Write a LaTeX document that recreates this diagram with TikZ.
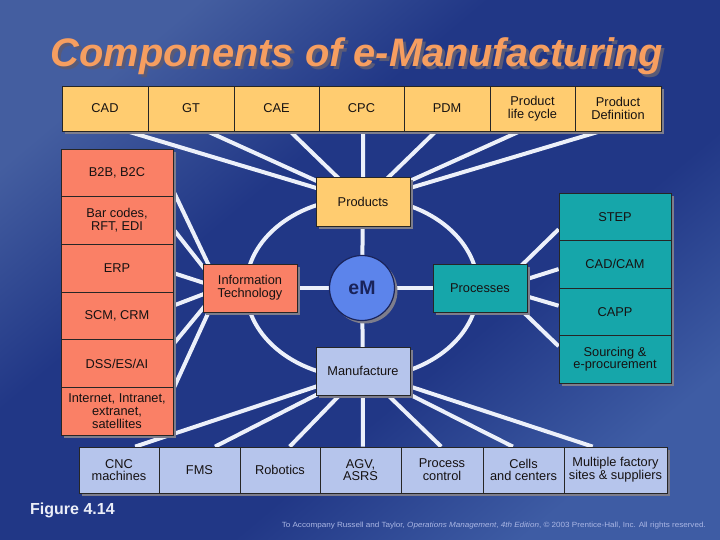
\documentclass[tikz,border=0pt]{standalone}
\usepackage{fontspec}
\setmainfont{Liberation Sans}
\usetikzlibrary{shadows,calc}
\definecolor{bgtop}{RGB}{68,94,160}
\definecolor{bgmid}{RGB}{33,55,134}
\definecolor{bgbot}{RGB}{62,92,164}
\definecolor{ltorange}{RGB}{255,204,112}
\definecolor{salmonbox}{RGB}{250,128,102}
\definecolor{tealbox}{RGB}{22,166,170}
\definecolor{lavbox}{RGB}{182,197,236}
\definecolor{embl}{RGB}{92,132,235}
\definecolor{shadowgray}{RGB}{125,125,140}
\definecolor{linewhite}{RGB}{236,240,250}
\definecolor{titleor}{RGB}{246,158,96}
\definecolor{titlesh}{RGB}{90,90,118}
\definecolor{txtdark}{RGB}{22,18,18}
\definecolor{footcol}{RGB}{170,182,228}
\definecolor{figwhite}{RGB}{235,238,248}
\definecolor{emtext}{RGB}{25,35,90}
\pgfdeclareverticalshading{bgshade}{100bp}{color(0bp)=(bgbot); color(25bp)=(bgbot); color(40bp)=(bgmid); color(60bp)=(bgmid); color(75bp)=(bgtop); color(100bp)=(bgtop)}
\pgfdeclarelayer{bg}
\pgfdeclarelayer{links}
\pgfsetlayers{bg,links,main}
\tikzset{
  cell/.style={draw=black!85, line width=0.8pt, inner sep=0pt, align=center,
    text=txtdark, font=\fontsize{12.8}{12.8}\selectfont,
    drop shadow={shadow xshift=3pt, shadow yshift=-3pt, fill=shadowgray, opacity=1}},
  topcell/.style={cell, fill=ltorange, minimum height=45pt},
  leftcell/.style={cell, fill=salmonbox, minimum width=112pt, minimum height=47.67pt},
  rightcell/.style={cell, fill=tealbox, minimum width=112pt, minimum height=47.5pt},
  botcell/.style={cell, fill=lavbox, minimum height=46pt},
  hubbox/.style={cell, minimum width=94pt, minimum height=48pt},
  link/.style={draw=linewhite, line width=4pt},
}
\begin{document}
\begin{tikzpicture}[x=1pt,y=-1pt]
\useasboundingbox (0,0) rectangle (720,540);
\begin{pgfonlayer}{bg}
\shade[shading=bgshade, shading angle=40] (0,0) rectangle (720,540);
\end{pgfonlayer}

% title
\node[anchor=base, text=titlesh, font=\fontsize{39.8}{40}\selectfont\bfseries\itshape] (titleshadow) at (360,70) {Components of e-Manufacturing};
\node[anchor=base, text=titleor, font=\fontsize{39.8}{40}\selectfont\bfseries\itshape] (title) at (357,67) {Components of e-Manufacturing};

% top row
\node[topcell, minimum width=86pt] (cad) at (105,108.5) {CAD};
\node[topcell, minimum width=86pt] (gt) at (191,108.5) {GT};
\node[topcell, minimum width=85pt] (cae) at (276.5,108.5) {CAE};
\node[topcell, minimum width=85pt] (cpc) at (361.5,108.5) {CPC};
\node[topcell, minimum width=86pt] (pdm) at (447,108.5) {PDM};
\node[topcell, minimum width=85pt] (plc) at (532.5,108.5) {Product\\life cycle};
\node[topcell, minimum width=86pt] (pdef) at (618,108.5) {Product\\Definition};

% left column
\node[leftcell] (b2b) at (117,172.8) {B2B, B2C};
\node[leftcell] (bar) at (117,220.5) {Bar codes,\\RFT, EDI};
\node[leftcell] (erp) at (117,268.2) {ERP};
\node[leftcell] (scm) at (117,315.8) {SCM, CRM};
\node[leftcell] (dss) at (117,363.5) {DSS/ES/AI};
\node[leftcell] (inet) at (117,411.2) {Internet, Intranet,\\extranet,\\satellites};

% right column
\node[rightcell] (step) at (615,216.75) {STEP};
\node[rightcell] (cadcam) at (615,264.25) {CAD/CAM};
\node[rightcell] (capp) at (615,311.75) {CAPP};
\node[rightcell] (src) at (615,359.25) {Sourcing \&\\e-procurement};

% bottom row
\node[botcell, minimum width=80pt] (cnc) at (119,470) {CNC\\machines};
\node[botcell, minimum width=81pt] (fms) at (199.5,470) {FMS};
\node[botcell, minimum width=80pt] (rob) at (280,470) {Robotics};
\node[botcell, minimum width=81pt] (agv) at (360.5,470) {AGV,\\ASRS};
\node[botcell, minimum width=82pt] (pctl) at (442,470) {Process\\control};
\node[botcell, minimum width=81pt] (cells) at (523.5,470) {Cells\\and centers};
\node[botcell, minimum width=103pt] (mult) at (615.5,470) {Multiple factory\\sites \& suppliers};

% hub
\node[hubbox, fill=ltorange, minimum height=49pt] (prod) at (363,202) {Products};
\node[hubbox, fill=salmonbox] (it) at (250,288) {Information\\Technology};
\node[hubbox, fill=tealbox] (proc) at (480,288) {Processes};
\node[hubbox, fill=lavbox] (manu) at (363,371) {Manufacture};
\node[circle, draw=emtext, line width=1.2pt, fill=embl, minimum size=65pt, inner sep=0pt,
  text=emtext, font=\fontsize{19.5}{20}\selectfont\bfseries,
  drop shadow={shadow xshift=3pt, shadow yshift=-3pt, fill=shadowgray, opacity=1}] (em) at (362,288) {eM};

% links
\begin{pgfonlayer}{links}
\draw[link] (em.center) ellipse [x radius=116pt, y radius=90pt];
\draw[link] (em.center) -- (prod.center);
\draw[link] (em.center) -- (it.center);
\draw[link] (em.center) -- (proc.center);
\draw[link] (em.center) -- (manu.center);
% top row to products
\draw[link] ($(cad.south west)!0.76!(cad.south east)$) -- (prod.center);
\draw[link] ($(gt.south west)!0.69!(gt.south east)$) -- (prod.center);
\draw[link] ($(cae.south west)!0.66!(cae.south east)$) -- (prod.center);
\draw[link] ($(cpc.south west)!0.52!(cpc.south east)$) -- (prod.center);
\draw[link] ($(pdm.south west)!0.37!(pdm.south east)$) -- (prod.center);
\draw[link] ($(plc.south west)!0.35!(plc.south east)$) -- (prod.center);
\draw[link] ($(pdef.south west)!0.29!(pdef.south east)$) -- (prod.center);
% left column to IT
\coordinate (itfocus) at ([xshift=17pt]it.west);
\draw[link] ($(b2b.north east)!0.875!(b2b.south east)$) -- (itfocus);
\draw[link] ($(bar.north east)!0.68!(bar.south east)$) -- (itfocus);
\draw[link] ($(erp.north east)!0.6!(erp.south east)$) -- (itfocus);
\draw[link] ($(scm.north east)!0.29!(scm.south east)$) -- (itfocus);
\draw[link] ($(dss.north east)!0.1!(dss.south east)$) -- (itfocus);
\draw[link] ($(inet.north east)!0.04!(inet.south east)$) -- (itfocus);
% right column to processes
\coordinate (procfocus) at ([xshift=-29pt]proc.east);
\draw[link] ($(step.north west)!0.76!(step.south west)$) -- (procfocus);
\draw[link] ($(cadcam.north west)!0.6!(cadcam.south west)$) -- (procfocus);
\draw[link] ($(capp.north west)!0.375!(capp.south west)$) -- (procfocus);
\draw[link] ($(src.north west)!0.23!(src.south west)$) -- (procfocus);
% bottom row to manufacture
\draw[link] ($(cnc.north west)!0.7!(cnc.north east)$) -- (manu.center);
\draw[link] ($(fms.north west)!0.69!(fms.north east)$) -- (manu.center);
\draw[link] ($(rob.north west)!0.62!(rob.north east)$) -- (manu.center);
\draw[link] ($(agv.north west)!0.53!(agv.north east)$) -- (manu.center);
\draw[link] ($(pctl.north west)!0.49!(pctl.north east)$) -- (manu.center);
\draw[link] ($(cells.north west)!0.37!(cells.north east)$) -- (manu.center);
\draw[link] ($(mult.north west)!0.28!(mult.north east)$) -- (manu.center);
\end{pgfonlayer}

% captions
\node[anchor=base west, inner sep=0pt, text=figwhite, font=\fontsize{16}{16}\selectfont\bfseries] (fig) at (30,514) {Figure 4.14};
\node[anchor=base east, inner sep=0pt, text=footcol, font=\fontsize{7.5}{8}\selectfont] (foot) at (706,527)
  {\resizebox{424pt}{\height}{To Accompany Russell and Taylor, \textit{Operations Management}, \textit{4th Edition}, © 2003 Prentice-Hall, Inc. All rights reserved.}};
\end{tikzpicture}
\end{document}
